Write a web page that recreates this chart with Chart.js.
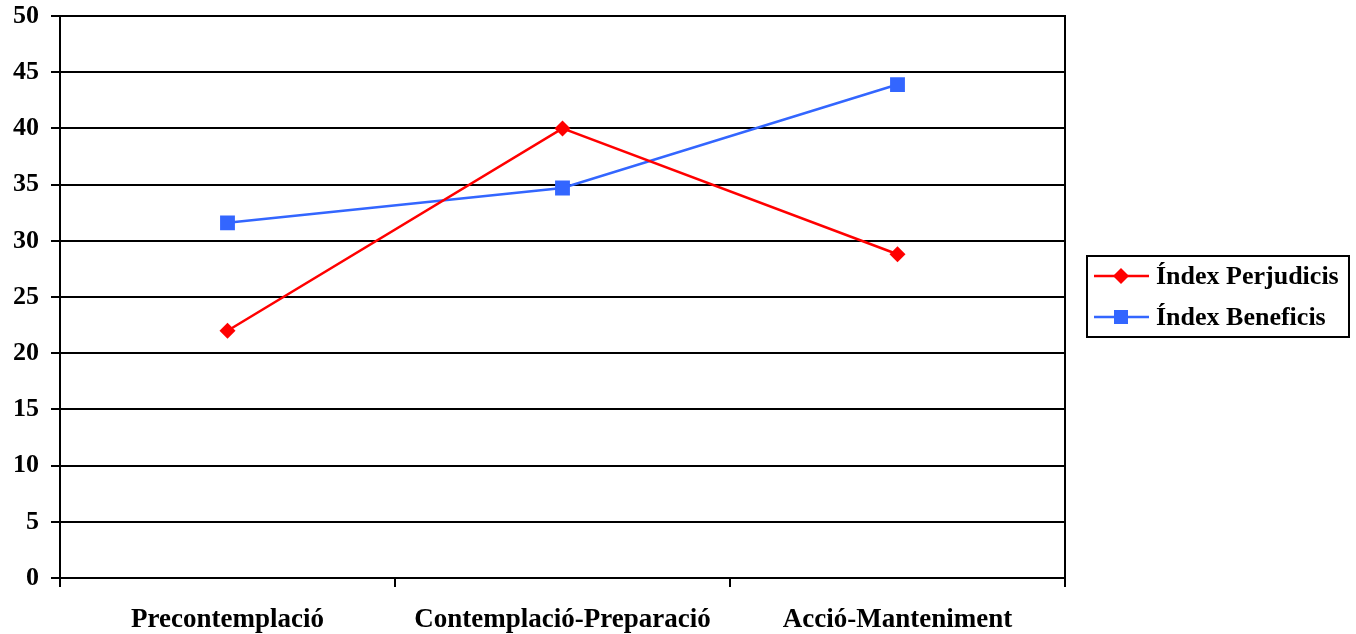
<!DOCTYPE html>
<html>
<head>
<meta charset="utf-8">
<script src="https://cdn.jsdelivr.net/npm/chart.js@4/dist/chart.umd.min.js"></script>
<style>
  html, body { margin: 0; padding: 0; background: #ffffff; }
  #wrap { width: 1356px; height: 634px; position: relative; }
</style>
</head>
<body>
<div id="wrap"><canvas id="chart"></canvas></div>
<script>
// Stages of change
const stages = ['Precontemplació', 'Contemplació-Preparació', 'Acció-Manteniment'];
// Index values per stage
const perjudicis = [22, 40, 28.8];
const beneficis = [31.6, 34.7, 43.9];
const seriesNames = ['Índex Perjudicis', 'Índex Beneficis'];
const yMin = 0, yMax = 50, yStep = 5;

const FAMILY = '"Liberation Serif", "Times New Roman", serif';
const Y_FONT = { family: FAMILY, size: 26, weight: 'bold' };
const X_FONT = { family: FAMILY, size: 27, weight: 'bold' };
const LEGEND_SIZE = 26;
const RED = '#ff0000';
const BLUE = '#3366ff';

// Right-hand frame line of the plot area plus the boxed legend
const framePlugin = {
  id: 'frameAndLegend',
  afterDraw(chart) {
    const ctx = chart.ctx;
    const a = chart.chartArea;
    ctx.save();
    ctx.strokeStyle = '#000';
    ctx.lineWidth = 2;
    ctx.beginPath();
    ctx.moveTo(a.right, a.top - 1);
    ctx.lineTo(a.right, a.bottom);
    ctx.stroke();

    // legend box
    const bx = 1087, by = 256, bw = 262, bh = 81;
    ctx.strokeRect(bx, by, bw, bh);
    ctx.font = `bold ${LEGEND_SIZE}px ${FAMILY}`;
    ctx.textBaseline = 'middle';
    ctx.textAlign = 'left';
    const rows = [276, 317];
    chart.data.datasets.forEach((ds, i) => {
      const y = rows[i];
      ctx.strokeStyle = ds.borderColor;
      ctx.lineWidth = 2.5;
      ctx.beginPath();
      ctx.moveTo(1094, y);
      ctx.lineTo(1149, y);
      ctx.stroke();
      ctx.fillStyle = ds.backgroundColor;
      const cx = 1121;
      if (ds.pointStyle === 'rectRot') {
        const r = 8;
        ctx.beginPath();
        ctx.moveTo(cx, y - r);
        ctx.lineTo(cx + r, y);
        ctx.lineTo(cx, y + r);
        ctx.lineTo(cx - r, y);
        ctx.closePath();
        ctx.fill();
      } else {
        const s = 7;
        ctx.fillRect(cx - s, y - s, 2 * s, 2 * s);
      }
      ctx.fillStyle = '#000';
      ctx.fillText(ds.label, 1156, y + 1);
    });
    ctx.restore();
  }
};

new Chart(document.getElementById('chart'), {
  type: 'line',
  data: {
    labels: stages,
    datasets: [
      {
        label: seriesNames[0],
        data: perjudicis,
        borderColor: RED,
        backgroundColor: RED,
        borderWidth: 2.5,
        pointStyle: 'rectRot',
        pointRadius: 8,
        pointBorderWidth: 0,
        pointBackgroundColor: RED,
        tension: 0
      },
      {
        label: seriesNames[1],
        data: beneficis,
        borderColor: BLUE,
        backgroundColor: BLUE,
        borderWidth: 2.5,
        pointStyle: 'rect',
        pointRadius: 10.5,
        pointBorderWidth: 0,
        pointBackgroundColor: BLUE,
        tension: 0
      }
    ]
  },
  options: {
    responsive: true,
    maintainAspectRatio: false,
    animation: false,
    devicePixelRatio: 1,
    layout: { padding: { top: 16, right: 291, bottom: 0, left: 0 } },
    plugins: {
      legend: { display: false },
      tooltip: { enabled: false }
    },
    scales: {
      x: {
        offset: true,
        grid: {
          offset: true,
          drawOnChartArea: false,
          drawTicks: true,
          tickLength: 9,
          color: '#000',
          lineWidth: 2
        },
        border: { display: true, color: '#000', width: 2 },
        ticks: { color: '#000', font: X_FONT, padding: 17, maxRotation: 0, autoSkip: false },
        afterFit(scale) {
          scale.height = 56;
          scale.paddingLeft = 0;
          scale.paddingRight = 0;
        }
      },
      y: {
        min: yMin,
        max: yMax,
        grid: {
          color: '#000',
          lineWidth: 2,
          drawTicks: true,
          tickLength: 9
        },
        border: { display: true, color: '#000', width: 2 },
        ticks: { stepSize: yStep, color: '#000', font: Y_FONT, padding: 12 },
        afterFit(scale) {
          scale.width = 60;
          scale.paddingTop = 0;
          scale.paddingBottom = 0;
        }
      }
    }
  },
  plugins: [framePlugin]
});
</script>
</body>
</html>
